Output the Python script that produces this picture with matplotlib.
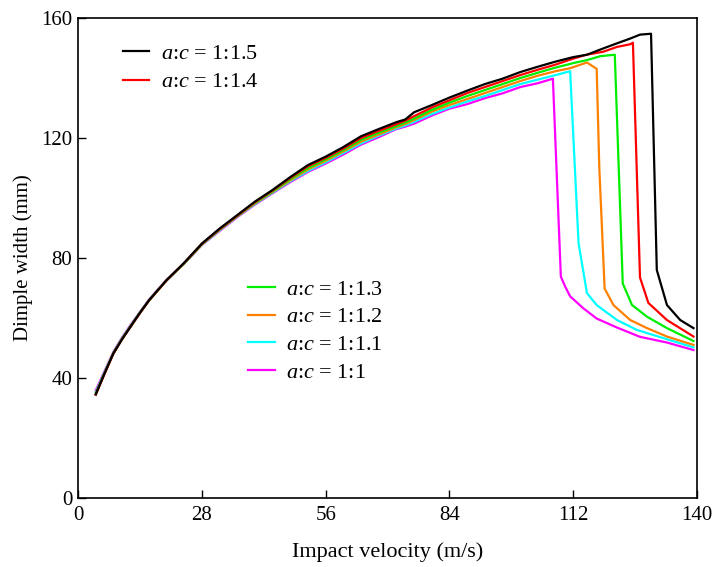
import matplotlib
matplotlib.use('Agg')
import matplotlib.pyplot as plt
from matplotlib.lines import Line2D

plt.rcParams['font.family'] = ['Liberation Serif', 'DejaVu Serif']
plt.rcParams['mathtext.fontset'] = 'custom'
plt.rcParams['mathtext.it'] = 'Liberation Serif:italic'
plt.rcParams['mathtext.rm'] = 'Liberation Serif'

# common rising part (impact velocity, m/s)
x_rise = [4, 6, 8, 10, 12, 14, 16, 18, 20, 24, 28, 32, 36, 40, 44, 48,
          52, 56, 60, 64, 68, 72, 74, 76, 80, 84, 88, 92, 96, 100, 104]

# dimple width (mm) per ratio a:c
y_rise_15 = [34.5, 41.5, 48.2, 53.0, 57.4, 61.7, 65.8, 69.2, 72.6, 78.4, 84.8, 89.8, 94.3, 98.8, 102.7, 107.0,
             111.0, 113.8, 117.0, 120.6, 123.0, 125.3, 126.2, 128.6, 131.0, 133.5, 135.8, 138.0, 139.8, 142.0, 143.8]
y_rise_14 = [34.4, 41.4, 48.1, 53.0, 57.3, 61.6, 65.7, 69.1, 72.5, 78.3, 84.7, 89.6, 94.1, 98.6, 102.5, 106.7,
             110.6, 113.4, 116.5, 120.0, 122.4, 124.6, 125.8, 127.3, 130.2, 132.6, 135.0, 137.0, 139.0, 141.0, 142.8]
y_rise_13 = [34.6, 41.6, 48.2, 53.1, 57.4, 61.7, 65.7, 69.1, 72.5, 78.2, 84.6, 89.5, 94.0, 98.4, 102.2, 106.3,
             110.0, 112.9, 116.0, 119.4, 121.8, 124.0, 125.2, 126.5, 129.4, 131.8, 134.0, 136.0, 138.0, 140.0, 141.8]
y_rise_12 = [34.7, 41.7, 48.3, 53.2, 57.5, 61.8, 65.8, 69.2, 72.5, 78.2, 84.5, 89.4, 93.9, 98.2, 102.0, 105.9,
             109.5, 112.4, 115.5, 118.8, 121.2, 123.6, 124.7, 126.0, 128.8, 131.0, 133.0, 135.0, 137.0, 139.0, 140.8]
y_rise_11 = [35.2, 42.0, 48.5, 53.4, 57.7, 61.9, 65.9, 69.3, 72.5, 78.1, 84.4, 89.2, 93.8, 98.0, 101.8, 105.6,
             109.0, 111.9, 115.0, 118.2, 120.8, 123.2, 124.2, 125.4, 128.0, 130.2, 132.2, 134.0, 136.0, 138.0, 139.5]
y_rise_10 = [35.8, 42.3, 48.7, 53.6, 57.9, 62.0, 66.0, 69.4, 72.6, 78.1, 84.3, 89.0, 93.6, 97.8, 101.6, 105.3,
             108.7, 111.5, 114.5, 117.8, 120.3, 123.0, 123.8, 124.8, 127.5, 129.8, 131.3, 133.3, 134.9, 137.0, 138.3]

# tails: peak and drop
x_tail_15 = [108, 112, 115.1, 118.8, 121.9, 124.9, 127.1, 129.6, 130.9, 133.2, 136.2, 139.2]
y_tail_15 = [145.5, 147.0, 147.8, 149.9, 151.6, 153.2, 154.5, 154.8, 76.0, 64.3, 59.3, 56.6]
x_tail_14 = [108, 112, 115, 118.8, 121.9, 124.9, 125.5, 127.1, 129.0, 133.2, 139.2]
y_tail_14 = [144.5, 146.5, 147.8, 148.8, 150.4, 151.3, 151.8, 73.5, 65.0, 59.3, 53.8]
x_tail_13 = [108, 112, 115.1, 118.1, 121.4, 123.2, 125.3, 128.7, 133.2, 139.2]
y_tail_13 = [143.5, 145.0, 146.0, 147.3, 147.8, 71.5, 64.3, 60.4, 56.6, 52.3]
x_tail_12 = [108, 111.3, 115.1, 117.3, 117.9, 119.1, 121.1, 124.9, 128.7, 133.2, 139.2]
y_tail_12 = [142.3, 143.3, 145.2, 143.1, 110.0, 69.8, 64.3, 59.3, 56.6, 53.8, 51.0]
x_tail_11 = [108, 111.3, 113.2, 115.1, 117.3, 121.9, 126.4, 133.2, 139.2]
y_tail_11 = [141.0, 142.3, 85.0, 68.3, 64.3, 59.3, 56.0, 52.9, 50.2]
x_tail_10 = [107.4, 109.2, 110.2, 111.3, 114.3, 117.3, 121.9, 127.1, 133.2, 139.2]
y_tail_10 = [139.8, 73.8, 70.4, 67.2, 63.2, 59.8, 56.8, 53.7, 51.8, 49.3]

labels = ['1:1', '1:1.1', '1:1.2', '1:1.3', '1:1.4', '1:1.5']
colors = ['#ff00ff', '#00ffff', '#ff8000', '#00ee00', '#ff0000', '#000000']
series = [(y_rise_10, x_tail_10, y_tail_10),
          (y_rise_11, x_tail_11, y_tail_11),
          (y_rise_12, x_tail_12, y_tail_12),
          (y_rise_13, x_tail_13, y_tail_13),
          (y_rise_14, x_tail_14, y_tail_14),
          (y_rise_15, x_tail_15, y_tail_15)]

fig = plt.figure(figsize=(7.16, 5.67), dpi=100)
ax = fig.add_axes([0.109, 0.122, 0.8645, 0.846])

for (yr, xt, yt), c in zip(series, colors):
     ax.plot(x_rise + xt, yr + yt, color=c, lw=1.6)

ax.set_xlim(0, 140)
ax.set_ylim(0, 160)
ax.set_xticks([0, 28, 56, 84, 112, 140])
ax.set_yticks([0, 40, 80, 120, 160])
ax.tick_params(direction='in', length=6, width=1, labelsize=15)
ax.tick_params(axis='x', pad=6)
ax.tick_params(axis='y', pad=4)
for s in ax.spines.values():
     s.set_linewidth(1.2)
ax.set_xlabel('Impact velocity (m/s)', fontsize=16, labelpad=12)
ax.set_ylabel('Dimple width (mm)', fontsize=15, labelpad=6)

def handle(c):
     return Line2D([], [], color=c, lw=1.6)

lab = lambda r: r'$a$:$c$ = ' + r
leg1 = ax.legend([handle(colors[5]), handle(colors[4])], [lab(labels[5]), lab(labels[4])],
                 loc='center left', bbox_to_anchor=(0.040, 0.896), frameon=False,
                 fontsize=16, handlelength=1.2, handletextpad=0.5, labelspacing=0.35)
ax.add_artist(leg1)
ax.legend([handle(colors[3]), handle(colors[2]), handle(colors[1]), handle(colors[0])],
          [lab(labels[3]), lab(labels[2]), lab(labels[1]), lab(labels[0])],
          loc='center left', bbox_to_anchor=(0.242, 0.348), frameon=False,
          fontsize=16, handlelength=1.2, handletextpad=0.5, labelspacing=0.32)

fig.savefig('out.png', dpi=100)
